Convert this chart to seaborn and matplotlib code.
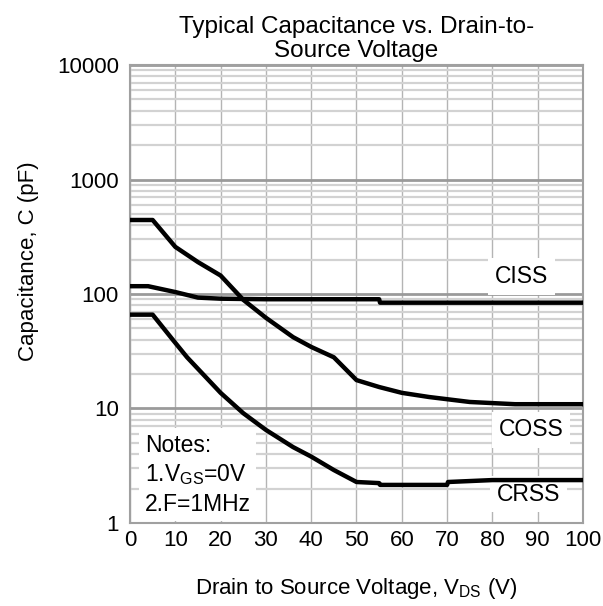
import numpy as np
import pandas as pd
import matplotlib
matplotlib.use("Agg")
import matplotlib.pyplot as plt
import seaborn as sns
from matplotlib.ticker import FixedLocator, FixedFormatter, LogLocator, NullFormatter

# values
ciss_v = [0, 4, 10, 15, 20, 30, 40, 55, 55.2, 100]
ciss_c = [117, 117, 104, 93, 91, 90, 90, 90, 84, 84]

coss_v = [0, 5, 10, 15, 20, 25, 30, 36, 40, 45, 50, 55, 60, 66, 75, 85, 100]
coss_c = [443, 443, 258, 190, 145, 89, 62, 42, 34.5, 28, 17.7, 15.4, 13.7, 12.6, 11.4, 10.9, 10.9]

crss_v = [0, 5, 9.5, 12.6, 20, 25, 30, 36, 40, 45, 50, 55, 55.2, 70, 70.2, 80, 100]
crss_c = [66, 66, 39.6, 28, 13.7, 9.1, 6.5, 4.6, 3.8, 2.9, 2.28, 2.23, 2.15, 2.15, 2.28, 2.37, 2.37]

x_ticks = [0, 10, 20, 30, 40, 50, 60, 70, 80, 90, 100]
y_ticks = [1, 10, 100, 1000, 10000]
y_labels = ["1", "10", "100", "1000", "10000"]

sns.set_style("white")
plt.rcParams["font.family"] = ["Liberation Sans", "DejaVu Sans"]
plt.rcParams["mathtext.fontset"] = "custom"
plt.rcParams["mathtext.rm"] = "Liberation Sans"
for k in ["text.color", "axes.labelcolor", "xtick.labelcolor", "ytick.labelcolor"]:
    plt.rcParams[k] = "black"

fig = plt.figure(figsize=(6.03, 6.06), dpi=100)
ax = fig.add_axes([0.2156, 0.137, 0.7512, 0.7557])

for v, c in [(ciss_v, ciss_c), (coss_v, coss_c), (crss_v, crss_c)]:
    df = pd.DataFrame({"vds": v, "cap": c})
    sns.lineplot(data=df, x="vds", y="cap", ax=ax, color="black", lw=3.2,
                 estimator=None, sort=False, zorder=5)

ax.set_yscale("log")
ax.set_xlim(0, 100)
ax.set_ylim(1, 10000)

ax.xaxis.set_major_locator(FixedLocator(x_ticks))
ax.yaxis.set_major_locator(FixedLocator(y_ticks))
ax.yaxis.set_major_formatter(FixedFormatter(y_labels))
ax.yaxis.set_minor_locator(LogLocator(base=10, subs=np.arange(2, 10)))
ax.yaxis.set_minor_formatter(NullFormatter())

ax.grid(True, which="major", axis="x", color="#b4b4b4", lw=1.0)
ax.grid(True, which="major", axis="y", color="#9a9a9a", lw=2.0)
ax.grid(True, which="minor", axis="y", color="#d2d2d2", lw=1.6)
ax.set_axisbelow(True)

ax.tick_params(axis="both", which="major", labelsize=16, length=0, pad=5,
               labelcolor="black")
ax.tick_params(axis="y", which="major", length=5, color="#555555", pad=3)
ax.tick_params(axis="y", which="minor", length=0)
for s in ax.spines.values():
    s.set_color("#a0a0a0")
    s.set_linewidth(1.5)

ax.set_xlabel(r"Drain to Source Voltage, V$_{\rm DS}$ (V)", fontsize=16, labelpad=18,
              color="black")
ax.set_ylabel("Capacitance, C (pF)", fontsize=16, color="black")
ax.yaxis.set_label_coords(-0.2, 0.572)
ax.set_title("Typical Capacitance vs. Drain-to-\nSource Voltage", fontsize=17.5,
             pad=6, linespacing=1.08, color="black")

box = dict(facecolor="white", edgecolor="none", pad=5)
ax.text(86.5, 143, "CISS", fontsize=16.5, ha="center", va="center", bbox=box, zorder=4)
ax.text(88.5, 6.5, "COSS", fontsize=16.5, ha="center", va="center", bbox=box, zorder=4)
ax.text(88, 1.79, "CRSS", fontsize=16.5, ha="center", va="center", bbox=box, zorder=4)

ax.text(0.033, 0.195, "Notes:\n1.V$_{\\rm GS}$=0V\n2.F=1MHz", transform=ax.transAxes,
        fontsize=16.5, ha="left", va="top", linespacing=1.3,
        bbox=dict(facecolor="white", edgecolor="none", pad=4), zorder=4)

fig.savefig("out.png", dpi=100)
